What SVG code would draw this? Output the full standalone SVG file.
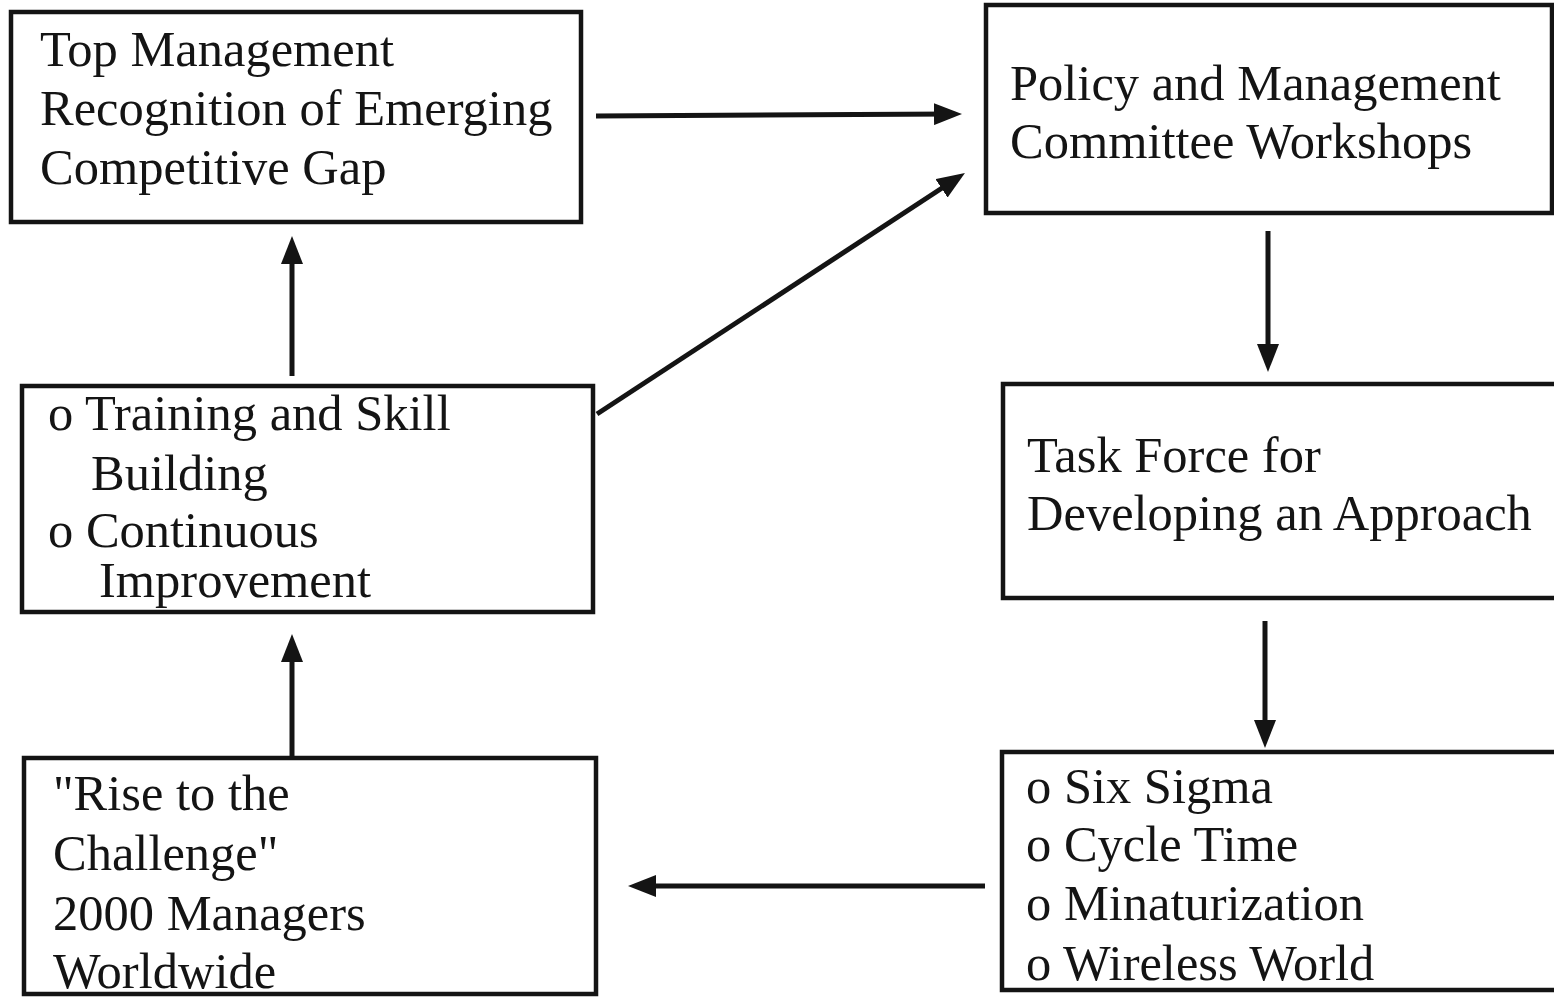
<svg xmlns="http://www.w3.org/2000/svg" width="1554" height="997" viewBox="0 0 1554 997">
  <style>
    .box { fill: #ffffff; stroke: #141414; stroke-width: 4.5; }
    .lbl { font-family: "Liberation Serif", "DejaVu Serif", serif; font-size: 50.5px; fill: #141414; }
    .link { stroke: #141414; stroke-width: 5; fill: none; marker-end: url(#head); }
  </style>
  <defs>
    <marker id="head" viewBox="0 0 28 22" refX="18" refY="11" markerWidth="28" markerHeight="22" markerUnits="userSpaceOnUse" orient="auto">
      <path d="M0,0 L28,11 L0,22 Z" fill="#141414"/>
    </marker>
  </defs>
  <rect width="1554" height="997" fill="#ffffff"/>

  <g id="top-management">
    <rect class="box" x="11" y="12" width="570" height="210"/>
    <text class="lbl" x="40" y="66">Top Management</text>
    <text class="lbl" x="40" y="125">Recognition of Emerging</text>
    <text class="lbl" x="40" y="184">Competitive Gap</text>
  </g>

  <g id="policy-workshops">
    <rect class="box" x="986" y="5" width="566" height="208"/>
    <text class="lbl" x="1010" y="100">Policy and Management</text>
    <text class="lbl" x="1010" y="158">Committee Workshops</text>
  </g>

  <g id="training">
    <rect class="box" x="22" y="386" width="571" height="226"/>
    <text class="lbl" x="48" y="430">o Training and Skill</text>
    <text class="lbl" x="91" y="490">Building</text>
    <text class="lbl" x="48" y="547">o Continuous</text>
    <text class="lbl" x="99" y="597">Improvement</text>
  </g>

  <g id="task-force">
    <rect class="box" x="1003" y="384" width="560" height="214"/>
    <text class="lbl" x="1027" y="472">Task Force for</text>
    <text class="lbl" x="1027" y="530">Developing an Approach</text>
  </g>

  <g id="rise-challenge">
    <rect class="box" x="24" y="758" width="572" height="236"/>
    <text class="lbl" x="53" y="810">"Rise to the</text>
    <text class="lbl" x="53" y="870">Challenge"</text>
    <text class="lbl" x="53" y="930">2000 Managers</text>
    <text class="lbl" x="53" y="988">Worldwide</text>
  </g>

  <g id="initiatives">
    <rect class="box" x="1002" y="752" width="560" height="238"/>
    <text class="lbl" x="1026" y="803">o Six Sigma</text>
    <text class="lbl" x="1026" y="861">o Cycle Time</text>
    <text class="lbl" x="1026" y="920">o Minaturization</text>
    <text class="lbl" x="1026" y="980">o Wireless World</text>
  </g>

  <g id="connectors">
    <line class="link" x1="596" y1="116" x2="952" y2="114"/>
    <line class="link" x1="597" y1="414" x2="956.6" y2="178.5"/>
    <line class="link" x1="292" y1="376" x2="292" y2="246"/>
    <line class="link" x1="1268" y1="231" x2="1268" y2="362"/>
    <line class="link" x1="1265" y1="621" x2="1265" y2="738"/>
    <line class="link" x1="292" y1="760" x2="292" y2="644"/>
    <line class="link" x1="985" y1="886" x2="638" y2="886"/>
  </g>
</svg>
